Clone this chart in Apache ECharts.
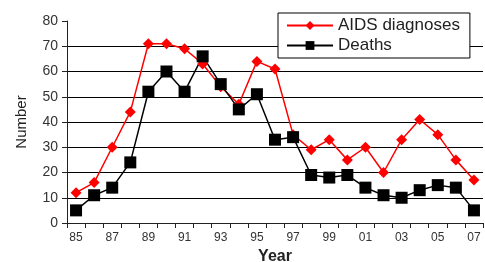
<!DOCTYPE html>
<html lang="en">
<head>
<meta charset="utf-8">
<title>AIDS diagnoses and deaths</title>
<style>
	html, body { margin: 0; padding: 0; background: #fff; }
	#chart { width: 485px; height: 262px; }
</style>
</head>
<body>
<div id="chart"></div>
<script src="https://cdn.jsdelivr.net/npm/echarts@6/dist/echarts.min.js"></script>
<script>
// years shown on the x axis (two digit)
var years = ['85','86','87','88','89','90','91','92','93','94','95','96','97','98','99','00','01','02','03','04','05','06','07'];
var aidsDiagnoses = [12, 16, 30, 44, 71, 71, 69, 63, 54, 47, 64, 61, 35, 29, 33, 25, 30, 20, 33, 41, 35, 25, 17];
var deaths = [5, 11, 14, 24, 52, 60, 52, 66, 55, 45, 51, 33, 34, 19, 18, 19, 14, 11, 10, 13, 15, 14, 5];

var font = 'Liberation Sans, Arial, sans-serif';
var chart = echarts.init(document.getElementById('chart'));

chart.setOption({
	animation: false,
	backgroundColor: '#fff',
	grid: { left: 67, right: 2, top: 21, bottom: 39, outerBoundsMode: 'none', containLabel: false },
	legend: {
		orient: 'vertical',
		left: 278,
		top: 13,
		width: 200,
		padding: [4, 10, 4, 8],
		itemGap: 3,
		itemWidth: 46,
		itemHeight: 11,
		backgroundColor: '#fff',
		borderColor: '#000',
		borderWidth: 1,
		borderRadius: 0,
		textStyle: { fontFamily: font, fontSize: 17, color: '#222' },
		data: ['AIDS diagnoses', 'Deaths']
	},
	xAxis: {
		type: 'category',
		data: years,
		boundaryGap: true,
		name: 'Year',
		nameLocation: 'middle',
		nameGap: 26,
		nameTextStyle: { fontFamily: font, fontSize: 16, fontWeight: 'bold', color: '#222' },
		axisLine: { lineStyle: { color: '#222', width: 1 } },
		axisTick: { show: true, interval: 0, length: 5, lineStyle: { color: '#222' } },
		axisLabel: { interval: 1, fontFamily: font, fontSize: 12, color: '#333', margin: 9 },
		splitLine: { show: false }
	},
	yAxis: {
		type: 'value',
		min: 0,
		max: 80,
		interval: 10,
		name: 'Number',
		nameLocation: 'middle',
		nameGap: 38,
		nameTextStyle: { fontFamily: font, fontSize: 15, color: '#222' },
		axisLine: { show: true, lineStyle: { color: '#222', width: 1 } },
		axisTick: { show: true, length: 5, lineStyle: { color: '#222' } },
		axisLabel: { fontFamily: font, fontSize: 14, color: '#333', margin: 9 },
		splitLine: { show: true, showMaxLine: false, lineStyle: { color: '#000', width: 1 } }
	},
	series: [
		{
			name: 'AIDS diagnoses',
			type: 'line',
			data: aidsDiagnoses,
			symbol: 'diamond',
			symbolSize: 11,
			color: '#ff0000',
			lineStyle: { color: '#ff0000', width: 1.5 },
			itemStyle: { color: '#ff0000' }
		},
		{
			name: 'Deaths',
			type: 'line',
			data: deaths,
			symbol: 'rect',
			symbolSize: 12,
			color: '#000',
			lineStyle: { color: '#000', width: 1.5 },
			itemStyle: { color: '#000' }
		}
	]
});
</script>
</body>
</html>
